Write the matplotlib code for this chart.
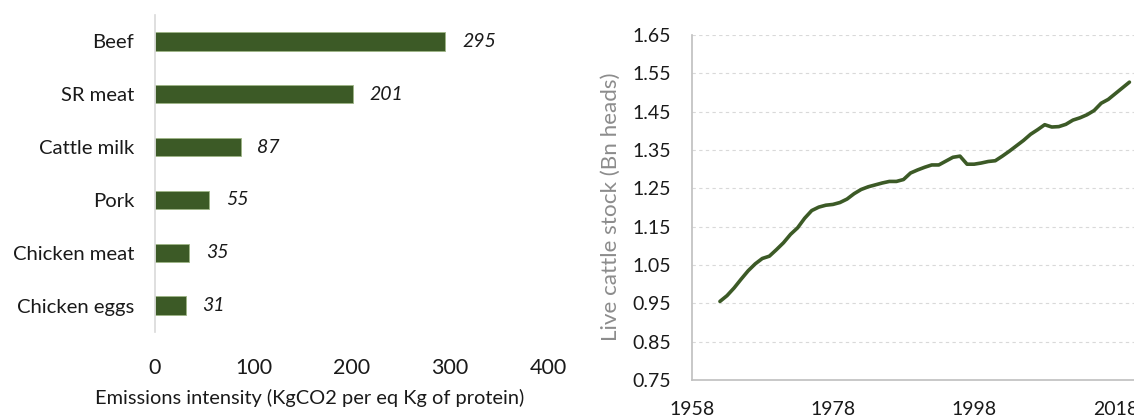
import matplotlib
matplotlib.use("Agg")
import matplotlib.pyplot as plt
import numpy as np

# ---- data ----
categories = ["Beef", "SR meat", "Cattle milk", "Pork", "Chicken meat", "Chicken eggs"]
emissions = [295, 201, 87, 55, 35, 31]

years = list(range(1962, 2021))
cattle_bn = [0.955, 0.970, 0.990, 1.013, 1.035, 1.053, 1.067, 1.073, 1.090, 1.108,
             1.130, 1.147, 1.172, 1.192, 1.201, 1.206, 1.208, 1.213, 1.222, 1.236,
             1.247, 1.254, 1.259, 1.264, 1.268, 1.268, 1.273, 1.290, 1.298, 1.305,
             1.311, 1.311, 1.321, 1.331, 1.334, 1.313, 1.313, 1.316, 1.320, 1.322,
             1.334, 1.347, 1.361, 1.375, 1.391, 1.403, 1.416, 1.410, 1.411, 1.417,
             1.428, 1.434, 1.442, 1.453, 1.472, 1.482, 1.497, 1.512, 1.527]

x_ticks_left = [0, 100, 200, 300, 400]
y_ticks_right = [0.75, 0.85, 0.95, 1.05, 1.15, 1.25, 1.35, 1.45, 1.55, 1.65]
x_ticks_right = [1958, 1978, 1998, 2018]

GREEN = "#3c5a26"
FONT = ["Lato", "DejaVu Sans"]
plt.rcParams["font.family"] = FONT

W, H = 1134, 417
fig = plt.figure(figsize=(W / 100, H / 100), dpi=100)

# ---- left: bar chart ----
axl = fig.add_axes([155 / W, 1 - 332 / H, (548.6 - 155) / W, (332 - 15) / H])
ypos = np.arange(len(categories))
axl.barh(ypos, emissions, height=0.35, color=GREEN, edgecolor="#9db585", linewidth=0.6)
for y, v in zip(ypos, emissions):
    axl.text(v + 17, y, f"{v}", va="center", ha="left", fontsize=14, style="italic", color="#1a1a1a")
axl.set_ylim(len(categories) - 0.5, -0.5)
axl.set_xlim(0, 400)
axl.set_yticks(ypos)
axl.set_yticklabels(categories, fontsize=14.6, color="#1a1a1a")
axl.set_xticks(x_ticks_left)
axl.set_xticklabels([str(t) for t in x_ticks_left], fontsize=15.5, color="#1a1a1a")
axl.tick_params(axis="y", length=0, pad=15)
axl.tick_params(axis="x", length=0, pad=19)
for s in ["top", "right", "bottom"]:
    axl.spines[s].set_visible(False)
axl.spines["left"].set_color("#d9d9d9")
axl.spines["left"].set_linewidth(1.2)
fig.text(310 / W, 1 - 398 / H, "Emissions intensity (KgCO2 per eq Kg of protein)",
         ha="center", va="center", fontsize=14.4, color="#1a1a1a")

# ---- right: line chart ----
px_per_year = 7.06
x0 = 691.7
xmax = 2026
axr = fig.add_axes([x0 / W, 1 - 380 / H, (xmax - 1958) * px_per_year / W, (380 - 35) / H])
axr.plot(years, cattle_bn, color=GREEN, linewidth=2.6, solid_capstyle="round", solid_joinstyle="round")
axr.set_xlim(1958, xmax)
axr.set_ylim(0.75, 1.65)
axr.set_yticks(y_ticks_right)
axr.set_yticklabels([f"{t:.2f}" for t in y_ticks_right], fontsize=14, color="#1a1a1a")
axr.set_xticks(x_ticks_right)
axr.set_xticklabels([str(t) for t in x_ticks_right], fontsize=14, color="#1a1a1a")
axr.tick_params(axis="y", length=0, pad=15)
axr.tick_params(axis="x", length=0, pad=15)
axr.yaxis.grid(True, color="#d9d9d9", linestyle=(0, (3, 3)), linewidth=0.8)
axr.set_axisbelow(True)
for s in ["top", "right"]:
    axr.spines[s].set_visible(False)
for s in ["left", "bottom"]:
    axr.spines[s].set_color("#bfbfbf")
    axr.spines[s].set_linewidth(1.2)
fig.text(611 / W, 1 - 207 / H, "Live cattle stock (Bn heads)", rotation=90,
         ha="center", va="center", fontsize=16.2, color="#8c8c8c")

fig.savefig("out.png", dpi=100)
